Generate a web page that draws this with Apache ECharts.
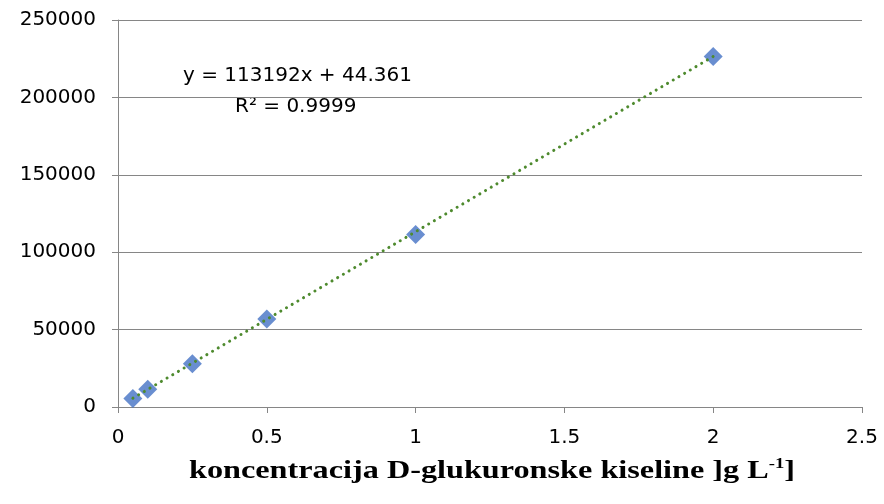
<!DOCTYPE html>
<html><head><meta charset="utf-8">
<script src="https://cdn.jsdelivr.net/npm/echarts@6/dist/echarts.min.js"></script>
<style>html,body{margin:0;padding:0;background:#fff}#c{width:884px;height:504px}</style>
</head><body><div id="c"></div>
<script>
const xValues = [0.05, 0.1, 0.25, 0.5, 1, 2];
const yValues = [5500, 11500, 28000, 56800, 111500, 226500];
const slope = 113192, intercept = 44.361;
const trendX = [0.05, 2];
const equationText = 'y = 113192x + 44.361';
const r2Text = 'R² = 0.9999';
const xTitle = 'koncentracija D-glukuronske kiseline ]g L';

const chart = echarts.init(document.getElementById('c'));
const FONT = '"DejaVu Sans", sans-serif';
const lab = {fontFamily:FONT, fontSize:20, color:'#000'};
chart.setOption({
  animation:false,
  grid:{left:118, right:22, top:20, bottom:97},
  xAxis:{type:'value', min:0, max:2.5, interval:0.5,
    axisLine:{lineStyle:{color:'#868686'}}, axisTick:{show:true, length:6, lineStyle:{color:'#868686'}},
    splitLine:{show:false},
    axisLabel:Object.assign({margin:21, formatter:v=>String(v)}, lab)
  },
  yAxis:{type:'value', min:0, max:250000, interval:50000,
    axisLine:{show:true, lineStyle:{color:'#868686'}}, axisTick:{show:true, length:6, lineStyle:{color:'#868686'}},
    splitLine:{lineStyle:{color:'#868686'}},
    axisLabel:Object.assign({margin:22, formatter:v=>String(v)}, lab)
  },
  series:[
    {type:'line', data:trendX.map(x=>[x, slope*x+intercept]), symbol:'none',
     lineStyle:{color:'#4E8A2E', width:3, type:[0.1,6.5], cap:'round'}, z:3},
    {type:'scatter', data:xValues.map((x,i)=>[x, yValues[i]]), symbol:'diamond', symbolSize:[19,19],
     itemStyle:{color:'#4472C4'}, z:2}
  ],
  graphic:[
    {type:'text', x:183, y:76, style:{text:equationText, font:'20px '+FONT, fill:'#000', verticalAlign:'middle'}},
    {type:'text', x:235, y:107, style:{text:r2Text, font:'20px '+FONT, fill:'#000', verticalAlign:'middle'}},
    {type:'text', x:492, y:471, scaleX:1.24,
     style:{text:'{t|'+xTitle+'}{s|-1}{t|]}', align:'center', verticalAlign:'middle',
       rich:{t:{fontFamily:'"Liberation Serif", serif', fontWeight:'bold', fontSize:26, fill:'#000'},
             s:{fontFamily:'"Liberation Serif", serif', fontWeight:'bold', fontSize:15, fill:'#000', padding:[0,0,14,0]}}}}
  ]
});
</script></body></html>
